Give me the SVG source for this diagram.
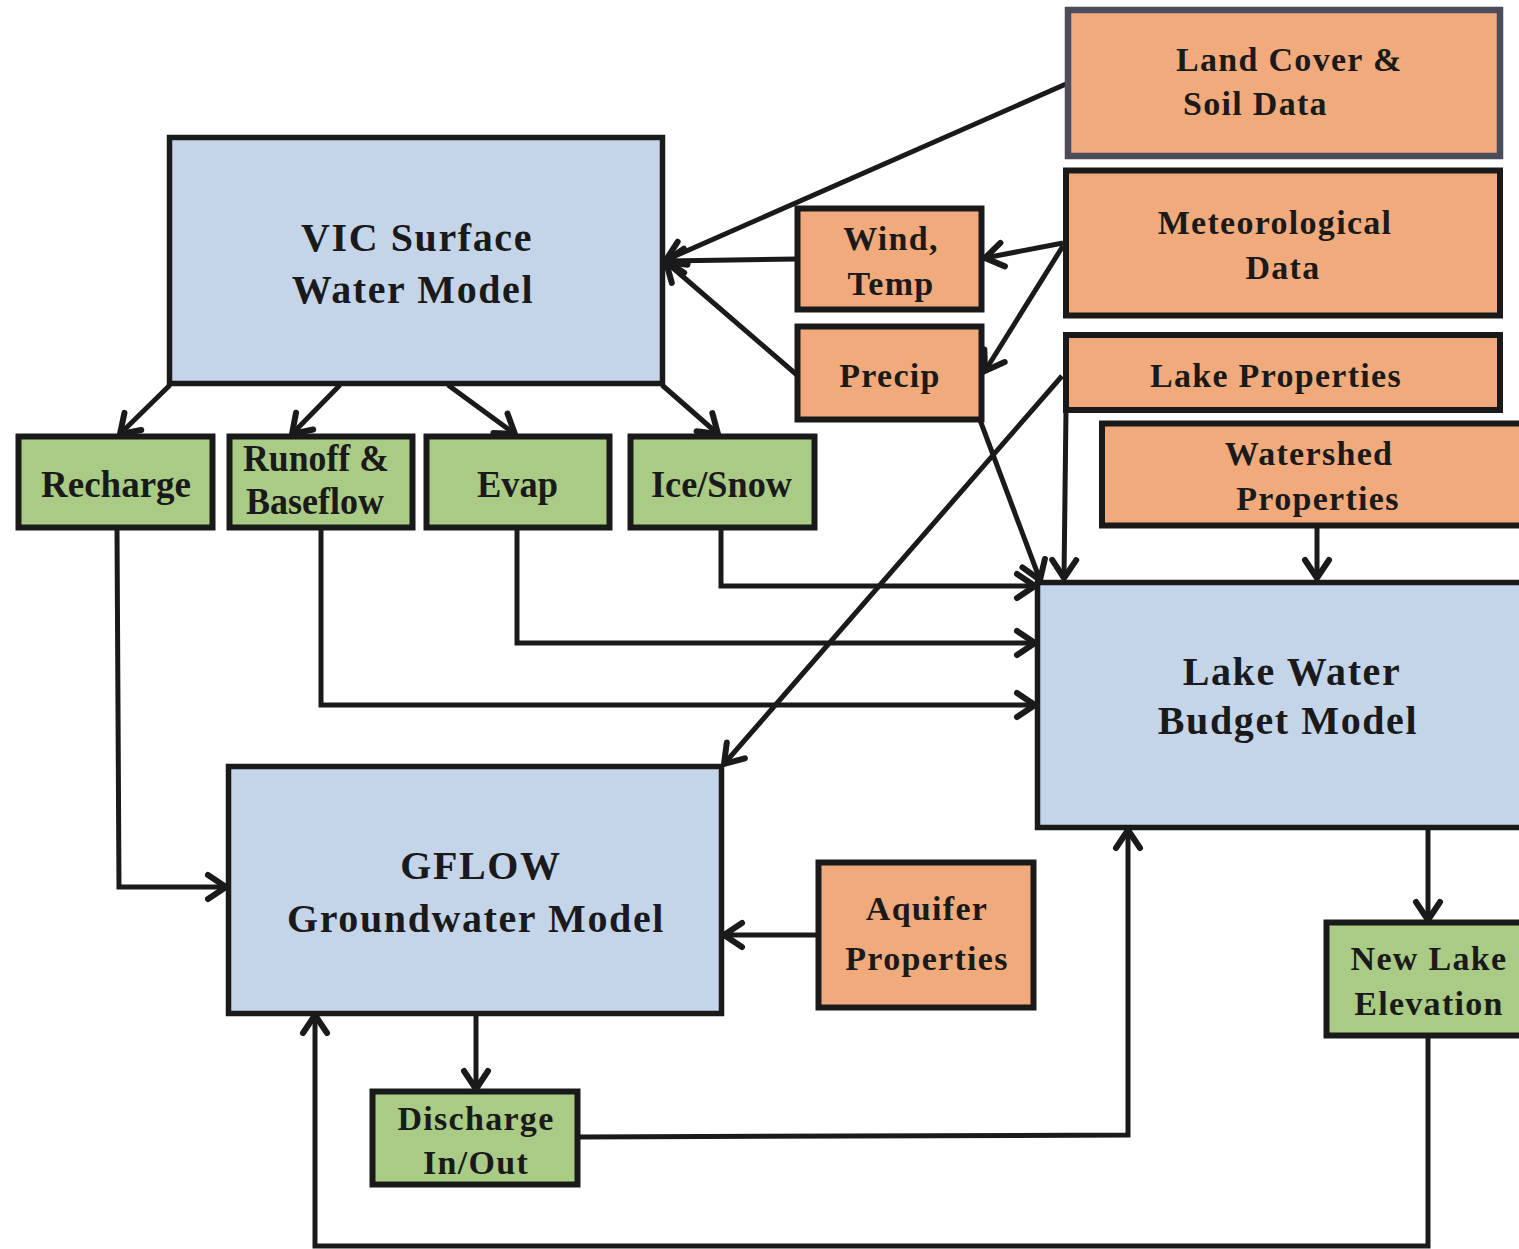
<svg xmlns="http://www.w3.org/2000/svg" width="1519" height="1249" viewBox="0 0 1519 1249">
<defs>
<marker id="ah" markerUnits="userSpaceOnUse" markerWidth="32" markerHeight="32" viewBox="0 0 32 32" refX="23" refY="16" orient="auto">
<path d="M5,4 L23,16 L5,28" fill="none" stroke="#1a1a1a" stroke-width="6" stroke-linecap="round" stroke-linejoin="miter"/>
</marker>
<style>
.blue{fill:#c5d5e9;stroke:#1a1a1a;stroke-width:5.5}
.orange{fill:#f0aa7c;stroke:#1a1a1a;stroke-width:6}
.green{fill:#a9cb85;stroke:#1a1a1a;stroke-width:6}
.grey{fill:#f0aa7c;stroke:#4c4d5a;stroke-width:6.5}
text{font-family:"Liberation Serif","Times New Roman",serif;font-weight:bold;fill:#1a1a1a}
.t34{font-size:34px;letter-spacing:1.3px}
.t40{font-size:40px;letter-spacing:1.6px}
.tg{font-size:37px}
.c{text-anchor:middle}
.ln{fill:none;stroke:#1a1a1a;stroke-width:5;marker-end:url(#ah)}
</style>
</defs>
<rect width="1519" height="1249" fill="#ffffff"/>
<g id="connectors">
<path class="ln" d="M1066,84 L666,260"/>
<path class="ln" d="M797,259 L666,261"/>
<path class="ln" d="M797,375 L666,262"/>
<path class="ln" d="M1063,243 L985,258"/>
<path class="ln" d="M1063,246 L985,371"/>
<path class="ln" d="M980,420 L1040,580"/>
<path class="ln" d="M1066,410 L1064,578"/>
<path class="ln" d="M1062,376 L724,764"/>
<path class="ln" d="M1317,526 L1317,578"/>
<path class="ln" d="M170,385 L120,434"/>
<path class="ln" d="M340,385 L292,434"/>
<path class="ln" d="M448,385 L515,434"/>
<path class="ln" d="M662,385 L718,434"/>
<path class="ln" d="M721,530 L721,586 L1035,586"/>
<path class="ln" d="M517,530 L517,643 L1035,643"/>
<path class="ln" d="M321,530 L321,705 L1035,705"/>
<path class="ln" d="M117,530 L119,887 L226,887"/>
<path class="ln" d="M816,935 L724,935"/>
<path class="ln" d="M476,1015 L476,1089"/>
<path class="ln" d="M580,1137 L1128,1135 L1128,830"/>
<path class="ln" d="M1428,830 L1428,920"/>
<path class="ln" d="M1428,1038 L1428,1246 L315,1246 L315,1015"/>
</g>
<g id="vic">
<rect class="blue" x="169.5" y="137.5" width="493" height="246"/>
<text class="t40 c" x="417" y="251">VIC Surface</text>
<text class="t40 c" x="413" y="303">Water Model</text>
</g>
<g id="landcover">
<rect class="grey" x="1068" y="10" width="432" height="146"/>
<text class="t34" x="1176" y="71">Land Cover &amp;</text>
<text class="t34" x="1183" y="115">Soil Data</text>
</g>
<g id="met">
<rect class="orange" x="1066" y="170.5" width="434" height="145"/>
<text class="t34 c" x="1275" y="234">Meteorological</text>
<text class="t34 c" x="1283" y="279">Data</text>
</g>
<g id="lakeprops">
<rect class="orange" x="1066" y="335" width="434" height="75"/>
<text class="t34 c" x="1276" y="387">Lake Properties</text>
</g>
<g id="watershed">
<rect class="orange" x="1102" y="423.5" width="430" height="102"/>
<text class="t34 c" x="1309" y="465">Watershed</text>
<text class="t34 c" x="1318" y="510">Properties</text>
</g>
<g id="wind">
<rect class="orange" x="797.5" y="208.5" width="184" height="101"/>
<text class="t34 c" x="891" y="250">Wind,</text>
<text class="t34 c" x="891" y="295">Temp</text>
</g>
<g id="precip">
<rect class="orange" x="797.5" y="326.5" width="184" height="93"/>
<text class="t34 c" x="890" y="387">Precip</text>
</g>
<g id="recharge">
<rect class="green" x="18.5" y="436.5" width="194" height="91"/>
<text class="tg" x="41" y="497" textLength="150" lengthAdjust="spacingAndGlyphs">Recharge</text>
</g>
<g id="runoff">
<rect class="green" x="229.5" y="436.5" width="183" height="91"/>
<text class="tg" x="243" y="471" textLength="146" lengthAdjust="spacingAndGlyphs">Runoff &amp;</text>
<text class="tg" x="246" y="514" textLength="138" lengthAdjust="spacingAndGlyphs">Baseflow</text>
</g>
<g id="evap">
<rect class="green" x="426.5" y="436.5" width="183" height="91"/>
<text class="tg" x="477" y="497" textLength="81" lengthAdjust="spacingAndGlyphs">Evap</text>
</g>
<g id="icesnow">
<rect class="green" x="630.5" y="436.5" width="184" height="91"/>
<text class="tg" x="651" y="497" textLength="141" lengthAdjust="spacingAndGlyphs">Ice/Snow</text>
</g>
<g id="lakemodel">
<rect class="blue" x="1037.5" y="582.5" width="495" height="245"/>
<text class="t40 c" x="1292" y="685">Lake Water</text>
<text class="t40 c" x="1288" y="734">Budget Model</text>
</g>
<g id="gflow">
<rect class="blue" x="228.5" y="766.5" width="493" height="247"/>
<text class="t40 c" x="481" y="879">GFLOW</text>
<text class="t40 c" x="476" y="932">Groundwater Model</text>
</g>
<g id="aquifer">
<rect class="orange" x="818.5" y="862.5" width="215" height="145"/>
<text class="t34 c" x="927" y="920">Aquifer</text>
<text class="t34 c" x="927" y="970">Properties</text>
</g>
<g id="discharge">
<rect class="green" x="372.5" y="1091.5" width="205" height="93"/>
<text class="t34 c" x="476" y="1130">Discharge</text>
<text class="t34 c" x="476" y="1174">In/Out</text>
</g>
<g id="newlake">
<rect class="green" x="1326.5" y="922.5" width="205" height="113"/>
<text class="t34 c" x="1429" y="970">New Lake</text>
<text class="t34 c" x="1429" y="1015">Elevation</text>
</g>
</svg>
